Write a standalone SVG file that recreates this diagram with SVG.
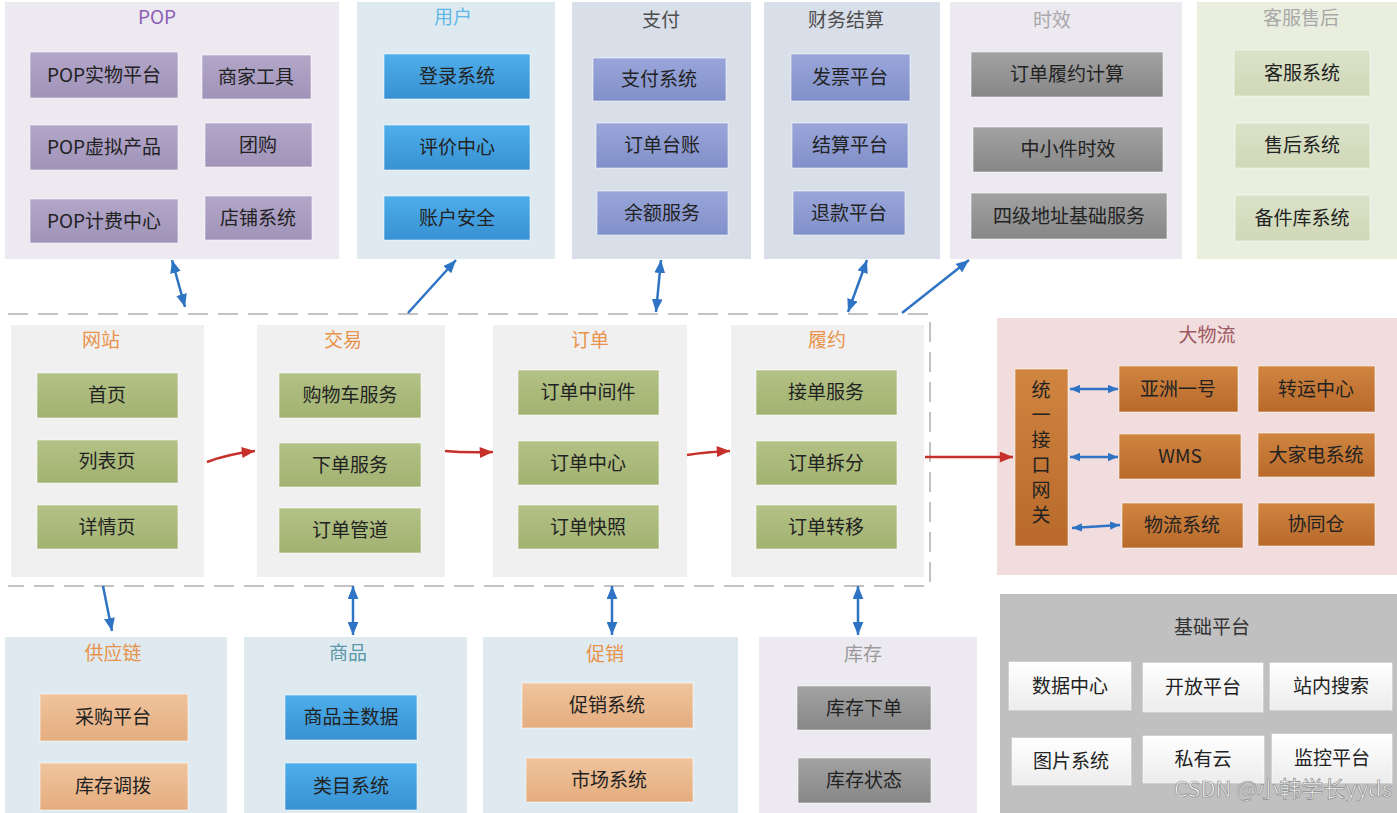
<svg xmlns="http://www.w3.org/2000/svg" width="1397" height="813" viewBox="0 0 1397 813">
<style>
text{font-family:"Noto Sans CJK SC","Noto Sans",sans-serif;}
.t{font-size:19px;text-anchor:middle;}
.b{font-size:19px;text-anchor:middle;fill:#222;}
.bx{stroke:#ffffff;stroke-opacity:0.55;stroke-width:1;}
.p1{fill:#ece9f1;}
.p2{fill:#dfeaf0;}
.p3{fill:#d8dfe9;}
.p4{fill:#e9eedf;}
.p5{fill:#f0f0f0;}
.p6{fill:#f1dddd;}
.p7{fill:#c0c0c0;}
.purple{fill:url(#gPurple);}
.blue{fill:url(#gBlue);}
.slate{fill:url(#gSlate);}
.gray{fill:url(#gGray);}
.olive{fill:url(#gOlive);}
.green{fill:url(#gGreen);}
.brown{fill:url(#gBrown);}
.peach{fill:url(#gPeach);}
.white{fill:url(#gWhite);}
.ba{stroke:#2f74c4;stroke-width:2.5;fill:none;}
.ra{stroke:#c6302a;stroke-width:2.5;fill:none;}
</style>
<defs>
<linearGradient id="gPurple" x1="0" y1="0" x2="0" y2="1"><stop offset="0" stop-color="#b2a6c8"/><stop offset="1" stop-color="#a093b9"/></linearGradient>
<linearGradient id="gBlue" x1="0" y1="0" x2="0" y2="1"><stop offset="0" stop-color="#4eaeea"/><stop offset="1" stop-color="#3891d3"/></linearGradient>
<linearGradient id="gSlate" x1="0" y1="0" x2="0" y2="1"><stop offset="0" stop-color="#9aa6da"/><stop offset="1" stop-color="#8190c9"/></linearGradient>
<linearGradient id="gGray" x1="0" y1="0" x2="0" y2="1"><stop offset="0" stop-color="#a2a2a2"/><stop offset="1" stop-color="#878787"/></linearGradient>
<linearGradient id="gOlive" x1="0" y1="0" x2="0" y2="1"><stop offset="0" stop-color="#dbe2c7"/><stop offset="1" stop-color="#d0d8b8"/></linearGradient>
<linearGradient id="gGreen" x1="0" y1="0" x2="0" y2="1"><stop offset="0" stop-color="#b3c285"/><stop offset="1" stop-color="#a2b272"/></linearGradient>
<linearGradient id="gBrown" x1="0" y1="0" x2="0" y2="1"><stop offset="0" stop-color="#d08540"/><stop offset="1" stop-color="#b8692b"/></linearGradient>
<linearGradient id="gPeach" x1="0" y1="0" x2="0" y2="1"><stop offset="0" stop-color="#f0c49d"/><stop offset="1" stop-color="#e4ad7f"/></linearGradient>
<linearGradient id="gWhite" x1="0" y1="0" x2="0" y2="1"><stop offset="0" stop-color="#ffffff"/><stop offset="1" stop-color="#ececec"/></linearGradient>
<marker id="mb" viewBox="0 0 12 10" refX="12" refY="5" markerWidth="13" markerHeight="11" markerUnits="userSpaceOnUse" orient="auto-start-reverse"><path d="M0,0 L12,5 L0,10 Z" fill="#2f74c4"/></marker>
<marker id="mbs" viewBox="0 0 12 10" refX="12" refY="5" markerWidth="10" markerHeight="9" markerUnits="userSpaceOnUse" orient="auto-start-reverse"><path d="M0,0 L12,5 L0,10 Z" fill="#2f74c4"/></marker>
<marker id="mr" viewBox="0 0 12 10" refX="12" refY="5" markerWidth="14" markerHeight="11" markerUnits="userSpaceOnUse" orient="auto"><path d="M0,0 L12,5 L0,10 Z" fill="#c6302a"/></marker>
</defs>

<!-- Top row panels -->
<g id="pop">
<rect class="p1" x="5" y="2" width="334" height="257"/>
<text class="t" x="157" y="24" fill="#8f5fb8">POP</text>
<rect class="bx purple" x="30" y="52" width="148" height="46"/><text class="b" x="104" y="82">POP实物平台</text>
<rect class="bx purple" x="202" y="55" width="109" height="44"/><text class="b" x="256" y="84">商家工具</text>
<rect class="bx purple" x="30" y="125" width="148" height="45"/><text class="b" x="104" y="154">POP虚拟产品</text>
<rect class="bx purple" x="205" y="123" width="107" height="44"/><text class="b" x="258" y="152">团购</text>
<rect class="bx purple" x="30" y="199" width="148" height="44"/><text class="b" x="104" y="228">POP计费中心</text>
<rect class="bx purple" x="205" y="196" width="107" height="44"/><text class="b" x="258" y="225">店铺系统</text>
</g>
<g id="user">
<rect class="p2" x="357" y="2" width="198" height="257"/>
<text class="t" x="453" y="24" fill="#5cb8e8">用户</text>
<rect class="bx blue" x="384" y="54" width="146" height="45"/><text class="b" x="457" y="83">登录系统</text>
<rect class="bx blue" x="384" y="125" width="146" height="45"/><text class="b" x="457" y="154">评价中心</text>
<rect class="bx blue" x="384" y="196" width="146" height="44"/><text class="b" x="457" y="225">账户安全</text>
</g>
<g id="pay">
<rect class="p3" x="572" y="2" width="179" height="257"/>
<text class="t" x="661" y="27" fill="#4d4d4d">支付</text>
<rect class="bx slate" x="593" y="58" width="133" height="43"/><text class="b" x="659" y="86">支付系统</text>
<rect class="bx slate" x="596" y="123" width="132" height="45"/><text class="b" x="662" y="152">订单台账</text>
<rect class="bx slate" x="597" y="191" width="131" height="44"/><text class="b" x="662" y="220">余额服务</text>
</g>
<g id="finance">
<rect class="p3" x="764" y="2" width="176" height="257"/>
<text class="t" x="846" y="27" fill="#4d4d4d">财务结算</text>
<rect class="bx slate" x="791" y="54" width="119" height="47"/><text class="b" x="850" y="84">发票平台</text>
<rect class="bx slate" x="792" y="123" width="116" height="45"/><text class="b" x="850" y="152">结算平台</text>
<rect class="bx slate" x="793" y="191" width="112" height="44"/><text class="b" x="849" y="220">退款平台</text>
</g>
<g id="timing">
<rect class="p1" x="950" y="2" width="232" height="257"/>
<text class="t" x="1052" y="27" fill="#a8a8a8">时效</text>
<rect class="bx gray" x="971" y="52" width="192" height="45"/><text class="b" x="1067" y="81">订单履约计算</text>
<rect class="bx gray" x="973" y="127" width="190" height="45"/><text class="b" x="1068" y="156">中小件时效</text>
<rect class="bx gray" x="971" y="193" width="196" height="46"/><text class="b" x="1069" y="223">四级地址基础服务</text>
</g>
<g id="service">
<rect class="p4" x="1197" y="2" width="200" height="257"/>
<text class="t" x="1301" y="25" fill="#a8a8a8">客服售后</text>
<rect class="bx olive" x="1234" y="50" width="136" height="46"/><text class="b" x="1302" y="80">客服系统</text>
<rect class="bx olive" x="1235" y="123" width="135" height="45"/><text class="b" x="1302" y="152">售后系统</text>
<rect class="bx olive" x="1235" y="195" width="135" height="46"/><text class="b" x="1302" y="225">备件库系统</text>
</g>

<!-- Middle row -->
<g id="core-boundary">
<path d="M8,314 H930 V586 H8" fill="none" stroke="#c2c2c2" stroke-width="2" stroke-dasharray="20 10"/>
</g>
<g id="website">
<rect class="p5" x="11" y="325" width="193" height="252"/>
<text class="t" x="101" y="347" fill="#e8924a">网站</text>
<rect class="bx green" x="37" y="373" width="141" height="45"/><text class="b" x="107" y="402">首页</text>
<rect class="bx green" x="37" y="440" width="141" height="43"/><text class="b" x="107" y="468">列表页</text>
<rect class="bx green" x="37" y="505" width="141" height="44"/><text class="b" x="107" y="534">详情页</text>
</g>
<g id="trade">
<rect class="p5" x="257" y="325" width="188" height="252"/>
<text class="t" x="343" y="347" fill="#e8924a">交易</text>
<rect class="bx green" x="279" y="373" width="142" height="45"/><text class="b" x="350" y="402">购物车服务</text>
<rect class="bx green" x="279" y="443" width="142" height="44"/><text class="b" x="350" y="472">下单服务</text>
<rect class="bx green" x="279" y="508" width="142" height="45"/><text class="b" x="350" y="537">订单管道</text>
</g>
<g id="order">
<rect class="p5" x="493" y="325" width="194" height="252"/>
<text class="t" x="590" y="347" fill="#e8924a">订单</text>
<rect class="bx green" x="518" y="370" width="141" height="45"/><text class="b" x="588" y="399">订单中间件</text>
<rect class="bx green" x="518" y="441" width="141" height="44"/><text class="b" x="588" y="470">订单中心</text>
<rect class="bx green" x="518" y="505" width="141" height="44"/><text class="b" x="588" y="534">订单快照</text>
</g>
<g id="fulfil">
<rect class="p5" x="731" y="325" width="193" height="252"/>
<text class="t" x="827" y="347" fill="#e8924a">履约</text>
<rect class="bx green" x="756" y="370" width="141" height="45"/><text class="b" x="826" y="399">接单服务</text>
<rect class="bx green" x="756" y="441" width="141" height="44"/><text class="b" x="826" y="470">订单拆分</text>
<rect class="bx green" x="756" y="505" width="141" height="44"/><text class="b" x="826" y="534">订单转移</text>
</g>
<g id="logistics">
<rect class="p6" x="997" y="318" width="400" height="257"/>
<text class="t" x="1207" y="342" fill="#9e5a62">大物流</text>
<rect class="bx brown" x="1015" y="369" width="53" height="177"/>
<text class="b" x="1041" y="455" writing-mode="vertical-rl" letter-spacing="6">统一接口网关</text>
<rect class="bx brown" x="1119" y="366" width="119" height="46"/><text class="b" x="1178" y="396">亚洲一号</text>
<rect class="bx brown" x="1258" y="366" width="117" height="46"/><text class="b" x="1316" y="396">转运中心</text>
<rect class="bx brown" x="1119" y="434" width="122" height="45"/><text class="b" x="1180" y="463">WMS</text>
<rect class="bx brown" x="1258" y="433" width="117" height="44"/><text class="b" x="1316" y="462">大家电系统</text>
<rect class="bx brown" x="1122" y="503" width="121" height="45"/><text class="b" x="1182" y="532">物流系统</text>
<rect class="bx brown" x="1258" y="503" width="117" height="43"/><text class="b" x="1316" y="531">协同仓</text>
</g>

<!-- Bottom row -->
<g id="supply">
<rect class="p2" x="5" y="637" width="222" height="176"/>
<text class="t" x="113" y="660" fill="#e8924a">供应链</text>
<rect class="bx peach" x="40" y="694" width="148" height="47"/><text class="b" x="113" y="724">采购平台</text>
<rect class="bx peach" x="40" y="763" width="148" height="47"/><text class="b" x="113" y="793">库存调拨</text>
</g>
<g id="goods">
<rect class="p2" x="244" y="637" width="223" height="176"/>
<text class="t" x="348" y="660" fill="#5a98a8">商品</text>
<rect class="bx blue" x="285" y="695" width="132" height="45"/><text class="b" x="351" y="724">商品主数据</text>
<rect class="bx blue" x="285" y="763" width="132" height="47"/><text class="b" x="351" y="793">类目系统</text>
</g>
<g id="promo">
<rect class="p2" x="483" y="637" width="255" height="176"/>
<text class="t" x="605" y="661" fill="#e8924a">促销</text>
<rect class="bx peach" x="522" y="683" width="171" height="45"/><text class="b" x="607" y="712">促销系统</text>
<rect class="bx peach" x="526" y="758" width="167" height="44"/><text class="b" x="609" y="787">市场系统</text>
</g>
<g id="stock">
<rect class="p1" x="759" y="637" width="218" height="176"/>
<text class="t" x="863" y="661" fill="#9a9a9a">库存</text>
<rect class="bx gray" x="797" y="686" width="134" height="44"/><text class="b" x="864" y="715">库存下单</text>
<rect class="bx gray" x="798" y="758" width="133" height="45"/><text class="b" x="864" y="787">库存状态</text>
</g>
<g id="base">
<rect class="p7" x="1000" y="594" width="397" height="219"/>
<text class="t" x="1212" y="634" fill="#333">基础平台</text>
<rect class="bx white" x="1009" y="662" width="122" height="48"/><text class="b" x="1070" y="693">数据中心</text>
<rect class="bx white" x="1143" y="663" width="120" height="49"/><text class="b" x="1203" y="694">开放平台</text>
<rect class="bx white" x="1270" y="663" width="122" height="47"/><text class="b" x="1331" y="693">站内搜索</text>
<rect class="bx white" x="1012" y="738" width="119" height="47"/><text class="b" x="1071" y="768">图片系统</text>
<rect class="bx white" x="1143" y="736" width="121" height="47"/><text class="b" x="1203" y="766">私有云</text>
<rect class="bx white" x="1272" y="734" width="120" height="49"/><text class="b" x="1332" y="765">监控平台</text>
</g>

<g id="connectors">
<line class="ba" x1="172" y1="260" x2="185" y2="307" marker-start="url(#mb)" marker-end="url(#mb)"/>
<line class="ba" x1="408" y1="313" x2="456" y2="260" marker-end="url(#mb)"/>
<line class="ba" x1="661" y1="260" x2="656" y2="312" marker-start="url(#mb)" marker-end="url(#mb)"/>
<line class="ba" x1="867" y1="260" x2="848" y2="312" marker-start="url(#mb)" marker-end="url(#mb)"/>
<line class="ba" x1="902" y1="313" x2="969" y2="260" marker-end="url(#mb)"/>
<line class="ba" x1="103" y1="586" x2="112" y2="631" marker-end="url(#mb)"/>
<line class="ba" x1="353" y1="586" x2="353" y2="635" marker-start="url(#mb)" marker-end="url(#mb)"/>
<line class="ba" x1="612" y1="586" x2="612" y2="635" marker-start="url(#mb)" marker-end="url(#mb)"/>
<line class="ba" x1="858" y1="586" x2="858" y2="635" marker-start="url(#mb)" marker-end="url(#mb)"/>
<line class="ba" x1="1070" y1="389" x2="1118" y2="389" stroke-width="2" marker-start="url(#mbs)" marker-end="url(#mbs)"/>
<line class="ba" x1="1070" y1="457" x2="1118" y2="457" stroke-width="2" marker-start="url(#mbs)" marker-end="url(#mbs)"/>
<line class="ba" x1="1072" y1="528" x2="1120" y2="525" stroke-width="2" marker-start="url(#mbs)" marker-end="url(#mbs)"/>
<path class="ra" d="M207,462 Q228,454 255,451" marker-end="url(#mr)"/>
<path class="ra" d="M445,451 Q466,453 493,452" marker-end="url(#mr)"/>
<path class="ra" d="M687,455 Q706,452 730,451" marker-end="url(#mr)"/>
<path class="ra" d="M925,457 L1013,457" marker-end="url(#mr)"/>
</g>

<text x="1392" y="797" text-anchor="end" font-family="'Liberation Sans','Noto Sans CJK SC',sans-serif" font-size="22" fill="#ffffff" fill-opacity="0.9" stroke="#8c8c8c" stroke-width="0.7">CSDN @小韩学长yyds</text>
</svg>
